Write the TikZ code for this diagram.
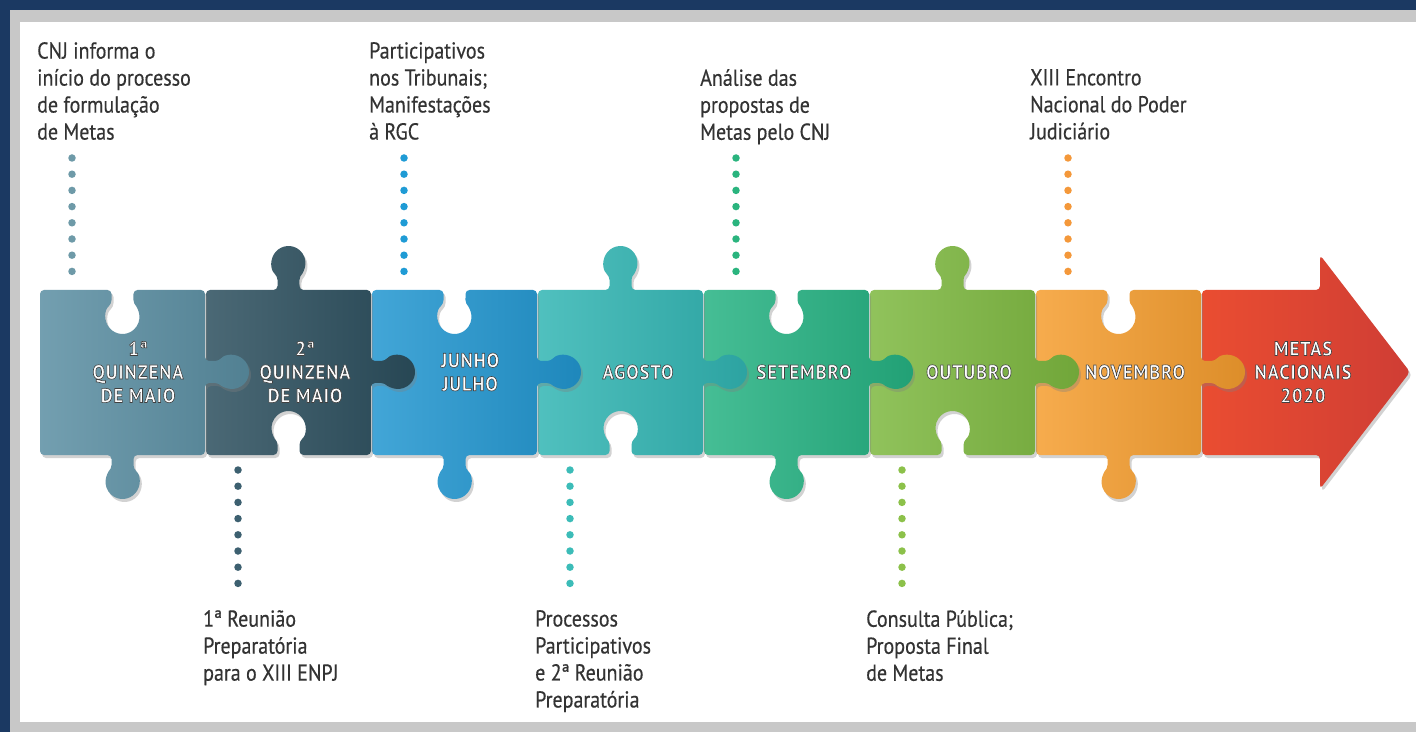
\documentclass[tikz,border=0pt]{standalone}
\usepackage{fontspec}
\setmainfont{PT Sans}[FakeStretch=0.87,FakeBold=0.4]
\newfontfamily\lblfont{PT Sans}[FakeStretch=0.92,LetterSpace=5]
\usetikzlibrary{shadows}

\definecolor{framenavy}{HTML}{1B3962}
\definecolor{bevelgray}{HTML}{C8C8C8}
\definecolor{notegray}{HTML}{333333}
\definecolor{pzslate}{HTML}{5A8EA2}
\definecolor{pzdark}{HTML}{2B4E5D}
\definecolor{pzblue}{HTML}{2196D0}
\definecolor{pzteal}{HTML}{31B5B3}
\definecolor{pzjade}{HTML}{25B282}
\definecolor{pzgreen}{HTML}{7DB83F}
\definecolor{pzorange}{HTML}{F59D2E}
\definecolor{pzred}{HTML}{E6443A}
\definecolor{dotslate}{HTML}{6E9AA8}
\definecolor{dotdark}{HTML}{3D6070}
\definecolor{dotblue}{HTML}{1F9BD5}
\definecolor{dotteal}{HTML}{3CBCB8}
\definecolor{dotjade}{HTML}{2AB47E}
\definecolor{dotgreen}{HTML}{8CC14A}
\definecolor{dotorange}{HTML}{F4983A}

\tikzset{
  note/.style={align=left, anchor=north west, inner sep=0pt, text=notegray,
    font=\fontsize{23}{27}\selectfont},
  lbl/.style={align=center, inner sep=0pt, text=white,
    font=\lblfont\bfseries\fontsize{20}{23.5}\selectfont},
  piece/.style={rounded corners=4pt,
    drop shadow={shadow xshift=2pt, shadow yshift=-3pt, opacity=.35}},
  dotline/.style={line width=7.5pt, line cap=round, dash pattern=on 0pt off 16.2pt},
}

% outlined white text
\newcommand{\outl}[1]{\special{pdf:literal direct 0.25 0.25 0.25 RG 0.6 w 2 Tr}#1\special{pdf:literal direct 0 Tr}}

% one piece: left edge, colour, top (1 tab, -1 blank), bottom
\newcommand{\puzzle}[4]{%
  \pgfmathsetmacro{\pzL}{#1}%
  \pgfmathsetmacro{\pzR}{#1+165}%
  \pgfmathsetmacro{\pzC}{#1+82.5}%
  \pgfmathsetmacro{\pzT}{442+(#3)*14.04}%
  \pgfmathsetmacro{\pzB}{277-(#4)*14.04}%
  \pgfmathsetmacro{\pzTa}{180+(#3)*49.7}%
  \pgfmathsetmacro{\pzTd}{-(#3)*279.4}%
  \pgfmathsetmacro{\pzBa}{(#4)*49.7}%
  \pgfmathsetmacro{\pzBd}{-(#4)*279.4}%
  \path[piece, left color=#2!85!white, right color=#2!90!black]
    (\pzL,277) -- (\pzL,442) -- ({\pzC-11},442) -- ({\pzC-11},\pzT)
    arc[start angle=\pzTa, delta angle=\pzTd, radius=17]
    -- ({\pzC+11},442) -- (\pzR,442) -- (\pzR,371) -- ({\pzR+14.04},371)
    arc[start angle=139.7, delta angle=-279.4, radius=17]
    -- (\pzR,349) -- (\pzR,277) -- ({\pzC+11},277) -- ({\pzC+11},\pzB)
    arc[start angle=\pzBa, delta angle=\pzBd, radius=17]
    -- ({\pzC-11},277) -- cycle;
}

\begin{document}
\begin{tikzpicture}[x=1pt,y=1pt]
  \useasboundingbox (0,0) rectangle (1416,732);

  % Frame
  \fill[framenavy] (0,0) rectangle (1416,732);
  \fill[bevelgray] (10,0) rectangle (1416,722);
  \fill[white] (20,10) rectangle (1416,710);

  % Arrow
  \path[piece, left color=pzred!85!orange, right color=pzred!90!black]
    (1202,277) -- (1202,442) -- (1320,442) -- (1320,477) -- (1410,360)
    -- (1320,243) -- (1320,277) -- cycle;

  % Pieces, right to left so each tab lies on its neighbour
  \foreach \i/\pc/\tp/\bt in {7/pzorange/-1/1, 6/pzgreen/1/-1, 5/pzjade/-1/1,
      4/pzteal/1/-1, 3/pzblue/-1/1, 2/pzdark/1/-1, 1/pzslate/-1/1} {
    \puzzle{40+166*(\i-1)}{\pc}{\tp}{\bt}
  }

  % Labels on the pieces
  \node[lbl] (q1) at (138,360) {\outl{1ª\\QUINZENA\\DE MAIO}};
  \node[lbl] (q2) at (305,360) {\outl{2ª\\QUINZENA\\DE MAIO}};
  \node[lbl] (jj) at (470,360) {\outl{JUNHO\\JULHO}};
  \node[lbl] (ago) at (638,360) {\outl{AGOSTO}};
  \node[lbl] (set) at (804,360) {\outl{SETEMBRO}};
  \node[lbl] (out) at (969,360) {\outl{OUTUBRO}};
  \node[lbl] (nov) at (1135,360) {\outl{NOVEMBRO}};
  \node[lbl] (metas) at (1303,360) {\outl{METAS\\NACIONAIS\\2020}};

  % Dotted connectors
  \foreach \i/\dc in {1/dotslate, 3/dotblue, 5/dotjade, 7/dotorange} {
    \coordinate (a\i) at ({72+166*(\i-1)},574);
    \coordinate (b\i) at ({72+166*(\i-1)},460);
    \draw[dotline, \dc] (a\i) -- (b\i);
  }
  \foreach \i/\dc in {2/dotdark, 4/dotteal, 6/dotgreen} {
    \coordinate (a\i) at ({72+166*(\i-1)},262);
    \coordinate (b\i) at ({72+166*(\i-1)},147);
    \draw[dotline, \dc] (a\i) -- (b\i);
  }

  % Notes
  \node[note] (n1) at (37,690) {CNJ informa o\\início do processo\\de formulação\\de Metas};
  \node[note] (n3) at (369,690) {Participativos\\nos Tribunais;\\Manifestações\\à RGC};
  \node[note] (n5) at (700,663) {Análise das\\propostas de\\Metas pelo CNJ};
  \node[note] (n7) at (1030,663) {XIII Encontro\\Nacional do Poder\\Judiciário};
  \node[note] (n2) at (203,122) {1ª Reunião\\Preparatória\\para o XIII ENPJ};
  \node[note] (n4) at (535,122) {Processos\\Participativos\\e 2ª Reunião\\Preparatória};
  \node[note] (n6) at (866,122) {Consulta Pública;\\Proposta Final\\de Metas};
\end{tikzpicture}
\end{document}
